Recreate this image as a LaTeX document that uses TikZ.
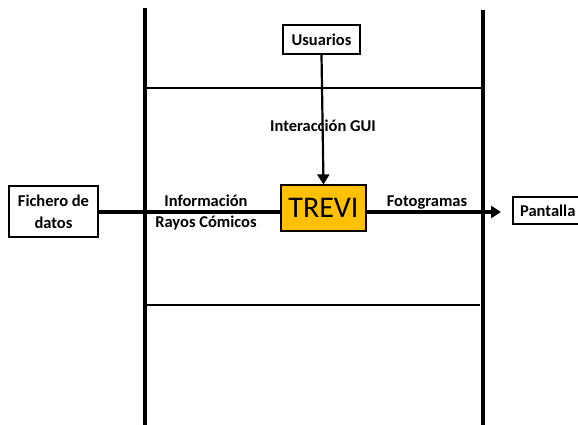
\documentclass[tikz,border=0pt]{standalone}
\usepackage{fontspec}
\setmainfont{Carlito}
\usetikzlibrary{arrows.meta}
\begin{document}
\begin{tikzpicture}[x=1pt,y=-1pt,
  lbl/.style={font=\fontsize{16.5}{21}\selectfont\bfseries, inner sep=0pt, align=center},
  boxnode/.style={draw=black, line width=1.5pt, fill=white, font=\fontsize{16.5}{22}\selectfont\bfseries, align=center, inner sep=0pt},
  lane/.style={line width=3.2pt},
  divider/.style={line width=2.6pt},
  flow/.style={line width=4.5pt},
  tip/.style={-{Triangle[length=10pt,width=12pt]}}
]
\useasboundingbox (0,0) rectangle (578,425);

% swimlane boundaries
\draw[lane] (145,8) -- (145,425);
\draw[lane] (483,10) -- (483,425);
\draw[divider] (145,88) -- (483,88);
\draw[divider] (145,305) -- (480,305);

% nodes
\node[boxnode, minimum width=77pt, minimum height=29pt] (usr) at (321.5,39.5) {Usuarios};
\node[draw=black, line width=1.2pt, fill={rgb,255:red,255;green,192;blue,0}, minimum width=85pt, minimum height=46pt, inner sep=0pt,
      font=\fontsize{30}{30}\selectfont] (trevi) at (323.5,208) {TREVI};
\node[boxnode, minimum width=89pt, minimum height=51pt] (fich) at (53.5,211.5) {Fichero de\\datos};
\node[boxnode, minimum width=70pt, minimum height=27pt, anchor=west] (pant) at (512,210.5) {Pantalla};

\coordinate (outend) at (501,212);

% labels
\node[lbl] (gui) at (323,126) {Interacción GUI};
\node[lbl, font=\fontsize{16.5}{21}\selectfont\bfseries] (info) at (206,213) {Información\\Rayos Cómicos};
\node[lbl] (foto) at (427,203) {Fotogramas};

% connectors
\draw[line width=2.2pt, tip] (usr.south) -- (trevi.north);
\draw[flow] (fich.east |- 0,212) -- (trevi.west |- 0,212);
\draw[flow, tip] (trevi.east |- 0,212) -- (outend);
\end{tikzpicture}
\end{document}
